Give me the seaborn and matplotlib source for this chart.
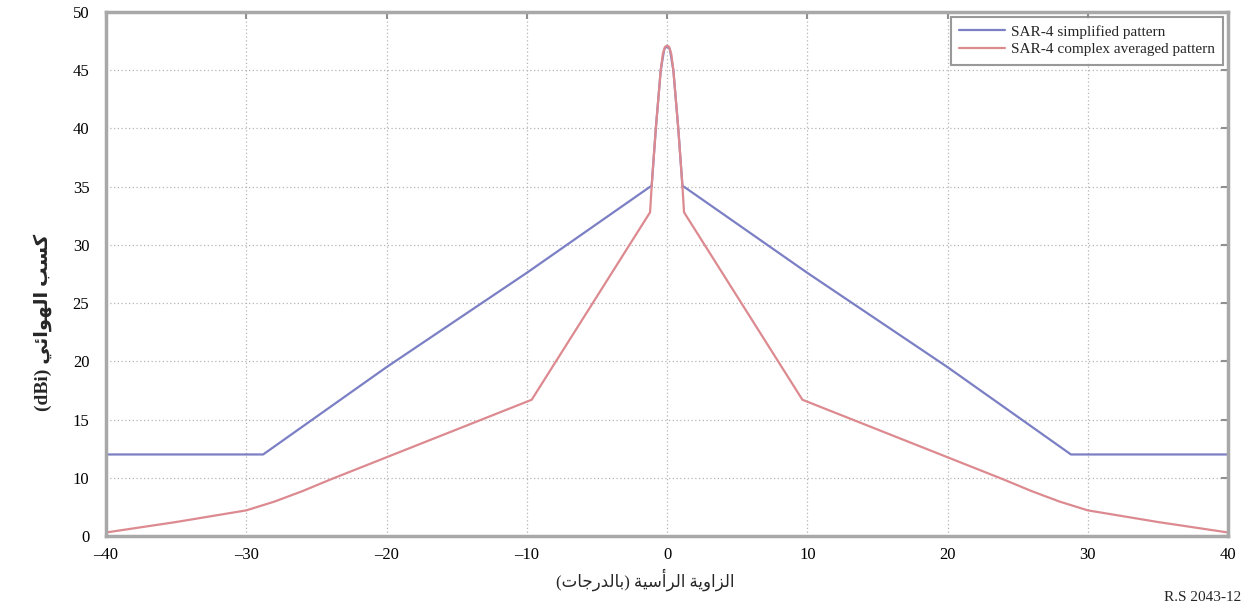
import pandas as pd
import seaborn as sns
import matplotlib.pyplot as plt

# data (x = angle in degrees, y = gain)
simple_x = [-40, -28.8, -20, -10, -1.2, -1.1, -0.8, -0.45, -0.2, 0,
            0.2, 0.45, 0.8, 1.1, 1.2, 10, 20, 28.8, 40]
simple_y = [12, 12, 19.5, 27.6, 35, 35, 40, 45, 46.8, 47.1,
            46.8, 45, 40, 35, 35, 27.6, 19.5, 12, 12]

complex_x = [-40, -35, -30, -28, -26, -24, -9.65, -1.21, -1.1, -0.8, -0.45, -0.3, -0.15, 0,
             0.15, 0.3, 0.45, 0.8, 1.1, 1.21, 9.65, 24, 26, 28, 30, 35, 40]
complex_y = [5.3, 6.2, 7.2, 7.95, 8.85, 9.85, 16.7, 32.8, 35, 40, 45, 46.4, 47.0, 47.1,
             47.0, 46.4, 45, 40, 35, 32.8, 16.7, 9.85, 8.85, 7.95, 7.2, 6.2, 5.3]

x_ticks = [-40, -30, -20, -10, 0, 10, 20, 30, 40]
y_ticks = [5, 10, 15, 20, 25, 30, 35, 40, 45, 50]
y_tick_labels = ['0', '10', '15', '20', '25', '30', '35', '40', '45', '50']

labels = ['SAR-4 simplified pattern', 'SAR-4 complex averaged pattern']
xlabel_ar = 'الزاوية الرأسية (بالدرجات)'
ylabel_ar = 'كسب الهوائي'
note = 'R.S 2043-12'

# minimal arabic shaping (isolated, final, initial, medial) -> visual order
FORMS = {
    'ا': ('\uFE8D', '\uFE8E', None, None),
    'أ': ('\uFE83', '\uFE84', None, None),
    'ل': ('\uFEDD', '\uFEDE', '\uFEDF', '\uFEE0'),
    'ز': ('\uFEAF', '\uFEB0', None, None),
    'و': ('\uFEED', '\uFEEE', None, None),
    'ي': ('\uFEF1', '\uFEF2', '\uFEF3', '\uFEF4'),
    'ة': ('\uFE93', '\uFE94', None, None),
    'ر': ('\uFEAD', '\uFEAE', None, None),
    'س': ('\uFEB1', '\uFEB2', '\uFEB3', '\uFEB4'),
    'ب': ('\uFE8F', '\uFE90', '\uFE91', '\uFE92'),
    'د': ('\uFEA9', '\uFEAA', None, None),
    'ج': ('\uFE9D', '\uFE9E', '\uFE9F', '\uFEA0'),
    'ت': ('\uFE95', '\uFE96', '\uFE97', '\uFE98'),
    'ك': ('\uFED9', '\uFEDA', '\uFEDB', '\uFEDC'),
    'ه': ('\uFEE9', '\uFEEA', '\uFEEB', '\uFEEC'),
    'ئ': ('\uFE89', '\uFE8A', '\uFE8B', '\uFE8C'),
}


def shape(text):
    out = []
    for i, ch in enumerate(text):
        if ch not in FORMS:
            out.append(ch)
            continue
        prev = text[i - 1] if i > 0 else ''
        nxt = text[i + 1] if i + 1 < len(text) else ''
        jp = prev in FORMS and FORMS[prev][2] is not None
        jn = nxt in FORMS and FORMS[ch][2] is not None
        iso, fin, ini, med = FORMS[ch]
        if jp and jn:
            out.append(med)
        elif jp:
            out.append(fin)
        elif jn:
            out.append(ini)
        else:
            out.append(iso)
    vis = ''.join(out)[::-1]
    return vis.translate(str.maketrans('()', ')('))


df = pd.concat([
    pd.DataFrame({'angle': simple_x, 'gain': simple_y, 'pattern': labels[0]}),
    pd.DataFrame({'angle': complex_x, 'gain': complex_y, 'pattern': labels[1]}),
])

sns.set_style('white')
plt.rcParams['font.family'] = ['Liberation Serif', 'DejaVu Sans']

fig = plt.figure(figsize=(12.46, 6.09), dpi=100)
ax = fig.add_axes([0.0851, 0.1199, 0.9005, 0.8604])

sns.lineplot(data=df, x='angle', y='gain', hue='pattern', sort=False,
             estimator=None, palette=['#7b7fc4', '#dc8a90'], linewidth=1.6, ax=ax)

ax.set_xlim(-40, 40)
ax.set_ylim(5, 50)
ax.set_xticks(x_ticks)
ax.set_xticklabels([str(t).replace('-', '\u2013') for t in x_ticks])
ax.set_yticks(y_ticks)
ax.set_yticklabels(y_tick_labels)
ax.grid(True, linestyle=(0, (1, 2)), color='#b5b5b5', linewidth=0.9)
ax.tick_params(direction='in', length=5, width=1.5, color='#909090',
               top=True, right=True, labelsize=12, labelcolor='black')
ax.tick_params(axis='y', pad=12)
ax.tick_params(axis='x', pad=8)
for s in ax.spines.values():
    s.set_color('#a8a8a8')
    s.set_linewidth(2.5)
ax.set_xlabel('')
ax.set_ylabel('')

leg = ax.legend(loc='upper right', fontsize=11, frameon=True, fancybox=False,
                borderaxespad=0.3, handlelength=3.0, handletextpad=0.4,
                borderpad=0.55, labelspacing=0.25)
leg.get_frame().set_edgecolor('#808080')
leg.get_frame().set_linewidth(1.5)

fig.text(0.518, 0.048, shape(xlabel_ar), ha='center', va='center', fontsize=12)
fig.text(0.034, 0.47, '(dBi) ' + shape(ylabel_ar), ha='center', va='center',
         rotation=90, fontsize=14, fontweight='bold')
fig.text(0.996, 0.03, note, ha='right', va='top', fontsize=11)

fig.savefig('out.png', dpi=100)
